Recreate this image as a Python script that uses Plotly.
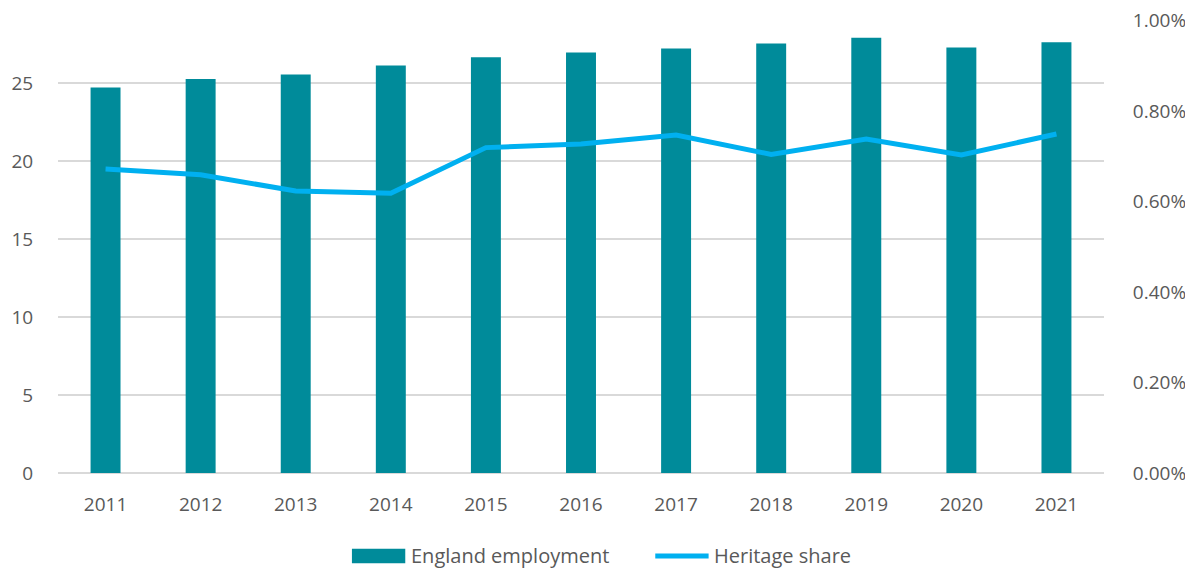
import plotly.graph_objects as go

years = ['2011', '2012', '2013', '2014', '2015', '2016', '2017', '2018', '2019', '2020', '2021']
england_employment = [24.71, 25.26, 25.54, 26.13, 26.65, 26.95, 27.22, 27.54, 27.91, 27.27, 27.61]
heritage_share = [0.00672, 0.00659, 0.00623, 0.00618, 0.00719, 0.00727,
                  0.00747, 0.00704, 0.00738, 0.00703, 0.00749]

FONT = "Open Sans, Calibri, sans-serif"
GREY = '#595959'
GRID = '#D9D9D9'
BAR_COLOR = '#008B9A'
LINE_COLOR = '#00B0F0'

fig = go.Figure()
fig.add_trace(go.Bar(
    x=years, y=england_employment, name='England employment',
    marker=dict(color=BAR_COLOR, line=dict(width=0)),
    yaxis='y', showlegend=False,
))
fig.add_trace(go.Scatter(
    x=years, y=heritage_share, name='Heritage share', mode='lines',
    line=dict(color=LINE_COLOR, width=5),
    yaxis='y2', showlegend=False,
))

# legend drawn by hand so the bar key is a wide block as in the original
leg_y = -0.183
fig.add_shape(type='rect', xref='paper', yref='paper',
              x0=0.281, x1=0.332, y0=leg_y - 0.016, y1=leg_y + 0.016,
              fillcolor=BAR_COLOR, line=dict(width=0))
fig.add_annotation(text='England employment', xref='paper', yref='paper',
                   x=0.336, y=leg_y, xanchor='left', yanchor='middle', showarrow=False,
                   font=dict(size=20, color=GREY))
fig.add_shape(type='line', xref='paper', yref='paper',
              x0=0.571, x1=0.622, y0=leg_y, y1=leg_y,
              line=dict(color=LINE_COLOR, width=5))
fig.add_annotation(text='Heritage share', xref='paper', yref='paper',
                   x=0.625, y=leg_y, xanchor='left', yanchor='middle', showarrow=False,
                   font=dict(size=20, color=GREY))

# page body adds an 8px offset, so the figure is 16px smaller than the window
fig.update_layout(
    width=1185, height=564,
    margin=dict(l=50, r=89, t=12, b=99, autoexpand=False),
    paper_bgcolor='white', plot_bgcolor='white',
    font=dict(family=FONT, size=19, color=GREY),
    bargap=0.685,
    showlegend=False,
    xaxis=dict(showgrid=False, showline=False, ticks='outside', ticklen=14,
               tickcolor='rgba(0,0,0,0)', tickfont=dict(size=19, color=GREY),
               automargin=False),
    yaxis=dict(range=[0, 29.04], dtick=5, tick0=0, showgrid=True, gridcolor=GRID,
               gridwidth=1.5, zeroline=True, zerolinecolor=GRID, zerolinewidth=1.5,
               showline=False, ticks='outside', ticklen=20, tickcolor='rgba(0,0,0,0)',
               tickfont=dict(size=19, color=GREY), automargin=False),
    yaxis2=dict(range=[0, 0.01001], dtick=0.002, tick0=0, tickformat='.2%',
                overlaying='y', side='right', showgrid=False, zeroline=False,
                showline=False, ticks='outside', ticklen=24, tickcolor='rgba(0,0,0,0)',
                tickfont=dict(size=19, color=GREY), automargin=False,
                ticklabeloverflow='allow'),
)

fig.write_html("out.html")
